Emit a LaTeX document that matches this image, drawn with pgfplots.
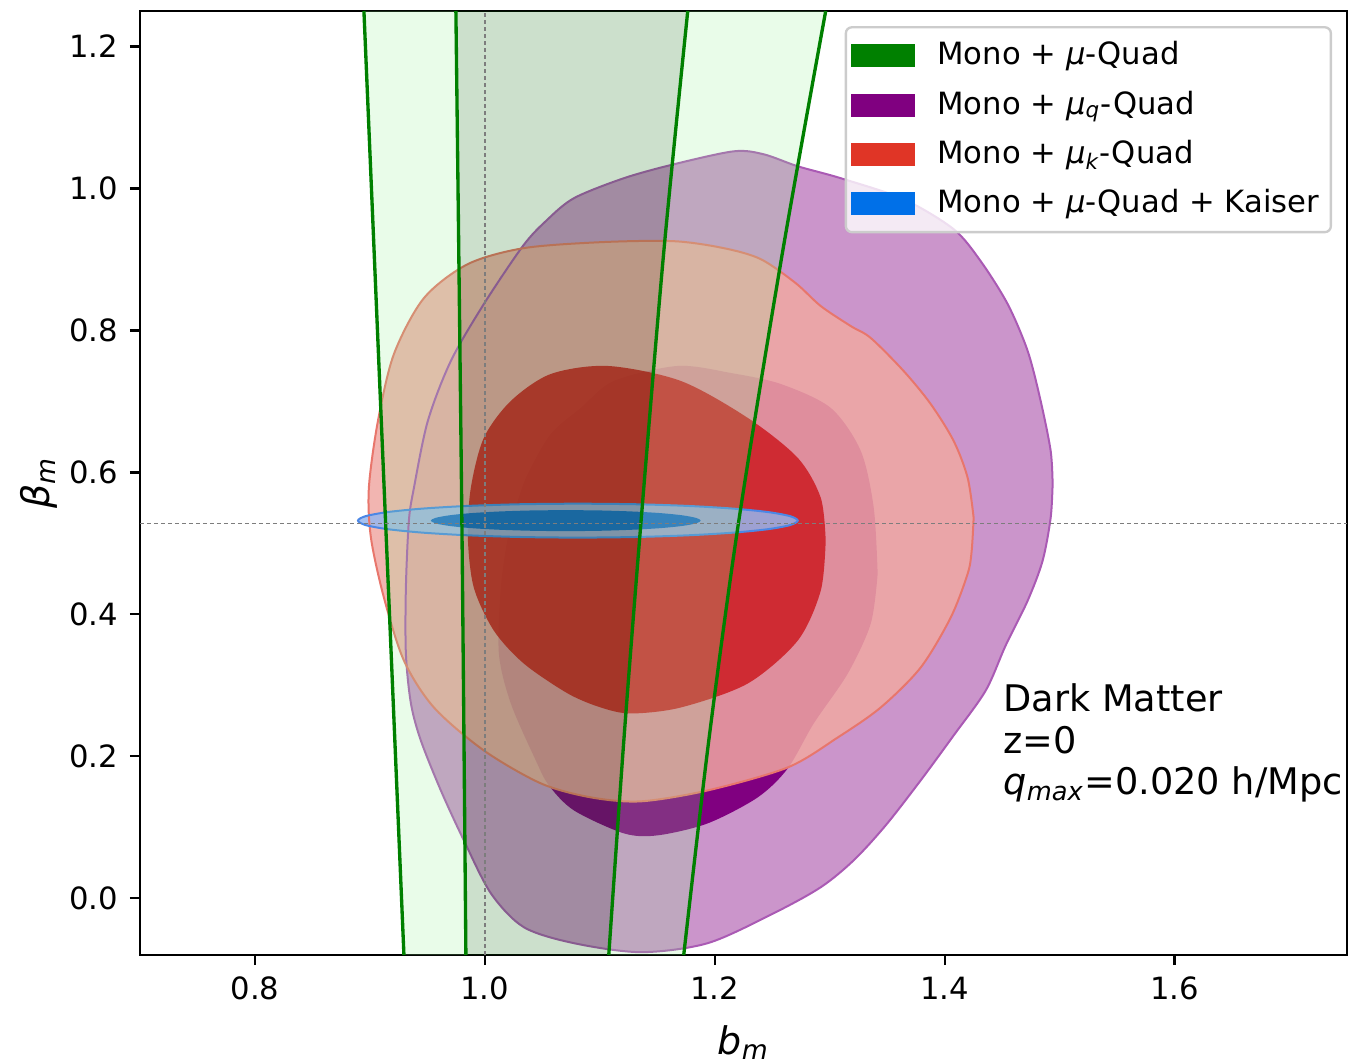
\documentclass[border=0pt]{standalone}
\usepackage{fontspec}
\setmainfont{DejaVu Sans}
\usepackage{pgfplots}
\usepackage{pgfplotstable}
\pgfplotsset{compat=1.18}

\definecolor{ringP}{RGB}{194,131,194}
\definecolor{coreP}{RGB}{128,0,128}
\definecolor{edgeP}{RGB}{170,90,180}
\definecolor{ringR}{RGB}{240,168,163}
\definecolor{coreR}{RGB}{205,26,33}
\definecolor{edgeR}{RGB}{232,118,108}
\definecolor{ringB}{RGB}{150,182,238}
\definecolor{coreB}{RGB}{20,100,200}
\definecolor{edgeB}{RGB}{75,135,230}
\definecolor{lgreen}{RGB}{144,238,144}
\definecolor{dgreen}{RGB}{0,100,0}
\definecolor{mplgreen}{RGB}{0,128,0}
\definecolor{legR}{RGB}{224,53,38}
\definecolor{legB}{RGB}{0,112,232}
\definecolor{refgray}{RGB}{125,125,125}
\definecolor{legedge}{RGB}{204,204,204}

% contours (b_m, beta_m)
\pgfplotstableread{
x y
1.4939 0.5838
1.4922 0.5360
1.4852 0.4755
1.4722 0.4192
1.4530 0.3559
1.4357 0.2926
1.4078 0.2293
1.3791 0.1660
1.3487 0.1027
1.3209 0.0535
1.2922 0.0155
1.2513 -0.0211
1.1939 -0.0633
1.1357 -0.0760
1.0774 -0.0633
1.0339 -0.0408
1.0052 0.0070
0.9817 0.0816
0.9617 0.1519
0.9443 0.2223
0.9357 0.2743
0.9313 0.3447
0.9313 0.4375
0.9339 0.5318
0.9383 0.5782
0.9504 0.6725
0.9704 0.7569
0.9991 0.8371
1.0330 0.9187
1.0530 0.9539
1.0774 0.9862
1.1209 1.0144
1.1643 1.0340
1.2165 1.0523
1.2426 1.0481
1.2722 1.0312
1.3096 1.0144
1.3643 0.9848
1.4078 0.9426
1.4313 0.8976
1.4548 0.8371
1.4722 0.7710
1.4835 0.7006
1.4922 0.6303
1.4939 0.5838
}\purpleOuter

\pgfplotstableread{
x y
1.3417 0.4572
1.3357 0.3869
1.3157 0.3165
1.2861 0.2462
1.2635 0.1829
1.2374 0.1421
1.1939 0.1055
1.1504 0.0886
1.1209 0.0914
1.0774 0.1238
1.0557 0.1590
1.0443 0.1941
1.0226 0.2743
1.0122 0.3447
1.0139 0.4375
1.0200 0.5079
1.0287 0.5599
1.0374 0.5979
1.0574 0.6542
1.0835 0.6908
1.1122 0.7288
1.1678 0.7499
1.2139 0.7400
1.2574 0.7245
1.3009 0.6908
1.3270 0.6303
1.3383 0.5501
1.3417 0.4572
}\purpleInner

\pgfplotstableread{
x y
1.4252 0.5360
1.4235 0.4896
1.4200 0.4572
1.4052 0.3953
1.3791 0.3250
1.3443 0.2687
1.3070 0.2265
1.2635 0.1843
1.1939 0.1519
1.1357 0.1365
1.0922 0.1421
1.0487 0.1618
0.9991 0.2082
0.9557 0.2687
0.9296 0.3348
0.9122 0.4235
0.9009 0.5079
0.8991 0.5782
0.9070 0.6725
0.9209 0.7667
0.9470 0.8455
0.9852 0.8934
1.0339 0.9159
1.1009 0.9243
1.1643 0.9257
1.2078 0.9159
1.2400 0.9004
1.2704 0.8666
1.2922 0.8343
1.3183 0.8061
1.3357 0.7893
1.3643 0.7428
1.3878 0.6964
1.4078 0.6443
1.4200 0.5923
1.4252 0.5360
}\redOuter

\pgfplotstableread{
x y
1.2965 0.5037
1.2922 0.4333
1.2722 0.3630
1.2287 0.3025
1.1704 0.2687
1.1270 0.2603
1.1009 0.2687
1.0722 0.2884
1.0339 0.3306
1.0078 0.3770
0.9904 0.4375
0.9852 0.5079
0.9878 0.5782
0.9991 0.6486
1.0226 0.7006
1.0574 0.7386
1.1070 0.7499
1.1704 0.7288
1.2287 0.6767
1.2722 0.6204
1.2922 0.5642
1.2965 0.5037
}\redInner

\pgfplotstableread{
x y
1.0809 0.5559
1.0314 0.5551
0.9852 0.5527
0.9456 0.5489
0.9152 0.5440
0.8961 0.5382
0.8896 0.5320
0.8961 0.5258
0.9152 0.5200
0.9456 0.5151
0.9852 0.5113
1.0314 0.5089
1.0809 0.5081
1.1304 0.5089
1.1766 0.5113
1.2162 0.5151
1.2466 0.5200
1.2657 0.5258
1.2722 0.5320
1.2657 0.5382
1.2466 0.5440
1.2162 0.5489
1.1766 0.5527
1.1304 0.5551
1.0809 0.5559
}\blueOuter

\pgfplotstableread{
x y
1.0704 0.5468
1.0400 0.5463
1.0117 0.5448
0.9874 0.5425
0.9687 0.5394
0.9570 0.5358
0.9530 0.5320
0.9570 0.5282
0.9687 0.5246
0.9874 0.5215
1.0117 0.5192
1.0400 0.5177
1.0704 0.5172
1.1008 0.5177
1.1291 0.5192
1.1534 0.5215
1.1721 0.5246
1.1838 0.5282
1.1878 0.5320
1.1838 0.5358
1.1721 0.5394
1.1534 0.5425
1.1291 0.5448
1.1008 0.5463
1.0704 0.5468
}\blueInner

% green band edges
\pgfplotstableread{
x y
0.8948 1.25
0.9296 -0.08
}\gOutL
\pgfplotstableread{
x y
0.9748 1.25
0.9800 0.532
0.9835 -0.08
}\gInL
\pgfplotstableread{
x y
1.1765 1.25
1.1557 0.9116
1.1357 0.5276
1.1209 0.2223
1.1078 -0.08
}\gInR
\pgfplotstableread{
x y
1.2965 1.25
1.2591 0.9116
1.2209 0.5317
1.1948 0.2223
1.1730 -0.08
}\gOutR

\begin{document}
\begin{tikzpicture}
\begin{axis}[
  at={(0pt,0pt)}, anchor=south west,
  scale only axis, width=362.1pt, height=283.2pt,
  xmin=0.7, xmax=1.75, ymin=-0.08, ymax=1.25,
  xtick={0.8,1.0,1.2,1.4,1.6}, ytick={0,0.2,0.4,0.6,0.8,1.0,1.2},
  tick pos=left, tick align=outside, major tick length=3pt,
  tick style={line width=0.7pt, black},
  axis line style={line width=0.7pt},
  /pgf/number format/fixed, /pgf/number format/fixed zerofill,
  /pgf/number format/precision=1,
  /pgf/number format/assume math mode=true,
  ticklabel style={font=\fontsize{9.2}{11}\selectfont},
  xlabel={{\itshape b}\textsubscript{\itshape m}},
  ylabel={{\itshape β}\textsubscript{\itshape m}},
  xlabel style={at={(axis description cs:0.5,-0.1049)}, anchor=base,
                font=\fontsize{11.4}{13}\selectfont},
  ylabel style={at={(axis description cs:-0.0746,0.5)}, anchor=base,
                font=\fontsize{11.4}{13}\selectfont},
  legend style={at={(0.9876,0.984)}, anchor=north east,
    draw=legedge, line width=0.7pt, rounded corners=1.8pt,
    fill=white, fill opacity=0.8, draw opacity=1, text opacity=1,
    font=\fontsize{9.2}{11}\selectfont,
    inner xsep=1.5pt, inner ysep=2.3pt, row sep=2.3pt,
    /tikz/every odd column/.append style={column sep=4.8pt}},
  legend cell align=left,
  legend image code/.code={\fill[#1, sharp corners, fill opacity=1] (1.3pt,-3.45pt) rectangle (20.5pt,3.45pt);},
]
% filled regions
\addplot[draw=none, fill=ringP, fill opacity=0.85, smooth, forget plot] table {\purpleOuter} -- cycle;
\addplot[draw=none, fill=coreP, smooth, forget plot] table {\purpleInner} -- cycle;
\addplot[draw=none, fill=ringR, fill opacity=0.85, smooth, forget plot] table {\redOuter} -- cycle;
\addplot[draw=none, fill=coreR, fill opacity=0.85, smooth, forget plot] table {\redInner} -- cycle;
\addplot[draw=none, fill=ringB, fill opacity=0.85, smooth, forget plot] table {\blueOuter} -- cycle;
\addplot[draw=none, fill=coreB, fill opacity=0.9, smooth, forget plot] table {\blueInner} -- cycle;
% contour edges
\addplot[edgeP, line width=0.6pt, smooth, forget plot] table {\purpleOuter};
\addplot[edgeR, line width=0.6pt, smooth, forget plot] table {\redOuter};
\addplot[edgeB, line width=0.6pt, smooth, forget plot] table {\blueOuter};
% green bands (drawn on top, translucent)
\addplot[draw=none, fill=lgreen, fill opacity=0.2, forget plot] coordinates {
  (0.8948,1.25) (0.9296,-0.08) (0.9835,-0.08) (0.9800,0.532) (0.9748,1.25)} -- cycle;
\addplot[draw=none, fill=lgreen, fill opacity=0.2, forget plot] coordinates {
  (1.1765,1.25) (1.1557,0.9116) (1.1357,0.5276) (1.1209,0.2223) (1.1078,-0.08)
  (1.1730,-0.08) (1.1948,0.2223) (1.2209,0.5317) (1.2591,0.9116) (1.2965,1.25)} -- cycle;
\addplot[draw=none, fill=dgreen, fill opacity=0.2, forget plot] coordinates {
  (0.9748,1.25) (0.9800,0.532) (0.9835,-0.08) (1.1078,-0.08) (1.1209,0.2223)
  (1.1357,0.5276) (1.1557,0.9116) (1.1765,1.25)} -- cycle;
\addplot[mplgreen, line width=1pt, smooth, forget plot] table {\gOutL};
\addplot[mplgreen, line width=1pt, smooth, forget plot] table {\gInL};
\addplot[mplgreen, line width=1pt, smooth, forget plot] table {\gInR};
\addplot[mplgreen, line width=1pt, smooth, forget plot] table {\gOutR};
% fiducial values
\addplot[refgray, line width=0.45pt, dash pattern=on 1.2pt off 0.9pt, forget plot]
  coordinates {(1.0,-0.08) (1.0,1.25)};
\addplot[refgray, line width=0.45pt, dash pattern=on 1.2pt off 0.9pt, forget plot]
  coordinates {(0.7,0.5276) (1.75,0.5276)};
% legend
\addlegendimage{fill=mplgreen, draw=none}
\addlegendentry{Mono + {\itshape μ}-Quad}
\addlegendimage{fill=coreP, draw=none}
\addlegendentry{Mono + {\itshape μ}\textsubscript{\itshape q}-Quad}
\addlegendimage{fill=legR, draw=none}
\addlegendentry{Mono + {\itshape μ}\textsubscript{\itshape k}-Quad}
\addlegendimage{fill=legB, draw=none}
\addlegendentry{Mono + {\itshape μ}-Quad + Kaiser}
\node[anchor=north west, align=left, inner sep=0pt,
      font=\fontsize{11.0}{12.5}\selectfont] at (rel axis cs:0.715,0.288)
  {Dark Matter\\z=0\\{\itshape q}\textsubscript{\itshape max}=0.020 h/Mpc};
\end{axis}
\pgfresetboundingbox
\path[use as bounding box] (-42pt,-32.1pt) rectangle (363.9pt,286.5pt);
\end{tikzpicture}
\end{document}
